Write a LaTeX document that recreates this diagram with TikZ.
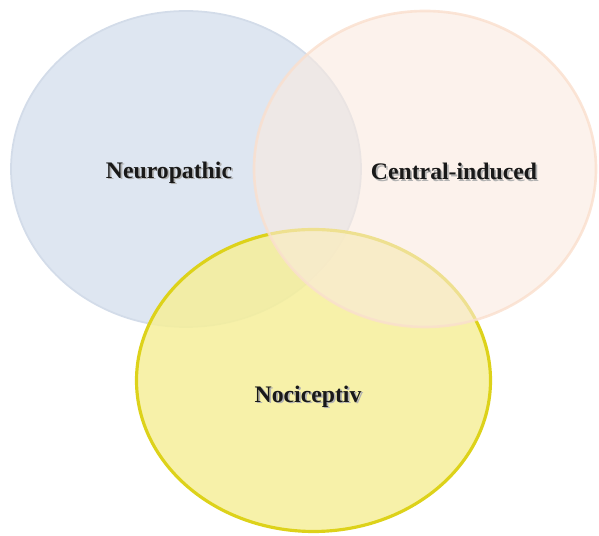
\documentclass[tikz,border=0pt]{standalone}
\usepackage{fontspec}
\setmainfont{Liberation Serif}
\usepackage{xcolor}
\definecolor{painblue}{HTML}{DEE6F1}
\definecolor{painblueline}{HTML}{D3DCE9}
\definecolor{painpeach}{HTML}{FAEADF}
\definecolor{painpeachline}{HTML}{FADFCD}
\definecolor{painyellow}{HTML}{F6EF9A}
\definecolor{painyellowline}{HTML}{DDD21A}
\tikzset{
    label/.style={font=\fontsize{13.5}{16}\selectfont\bfseries, text=black!90},
    shade/.style={font=\fontsize{13.5}{16}\selectfont\bfseries, text=black!30}
}
\begin{document}
\begin{tikzpicture}
        \useasboundingbox (0,0) rectangle (11.98,10.72);

        \filldraw[fill=painblue, draw=painblueline, line width=1pt] (3.72,7.34) ellipse (3.50 and 3.16);
        \filldraw[fill=painyellow, draw=painyellowline, line width=1.8pt, fill opacity=0.85] (6.27,3.11) ellipse (3.54 and 3.02);
        \filldraw[fill=painpeach, draw=painpeachline, line width=1.5pt, fill opacity=0.6, draw opacity=0.8] (8.5,7.34) ellipse (3.42 and 3.16);

        \node[shade] (neuroshadow) at (3.415,7.235) {Neuropathic};
        \node[label] (neuro) at (3.38,7.27) {Neuropathic};
        \node[shade] (centralshadow) at (9.115,7.255) {Central-induced};
        \node[label] (central) at (9.08,7.29) {Central-induced};
        \node[shade] (nocishadow) at (6.195,2.755) {Nociceptiv};
        \node[label] (noci) at (6.16,2.79) {Nociceptiv};

    \end{tikzpicture}
\end{document}
